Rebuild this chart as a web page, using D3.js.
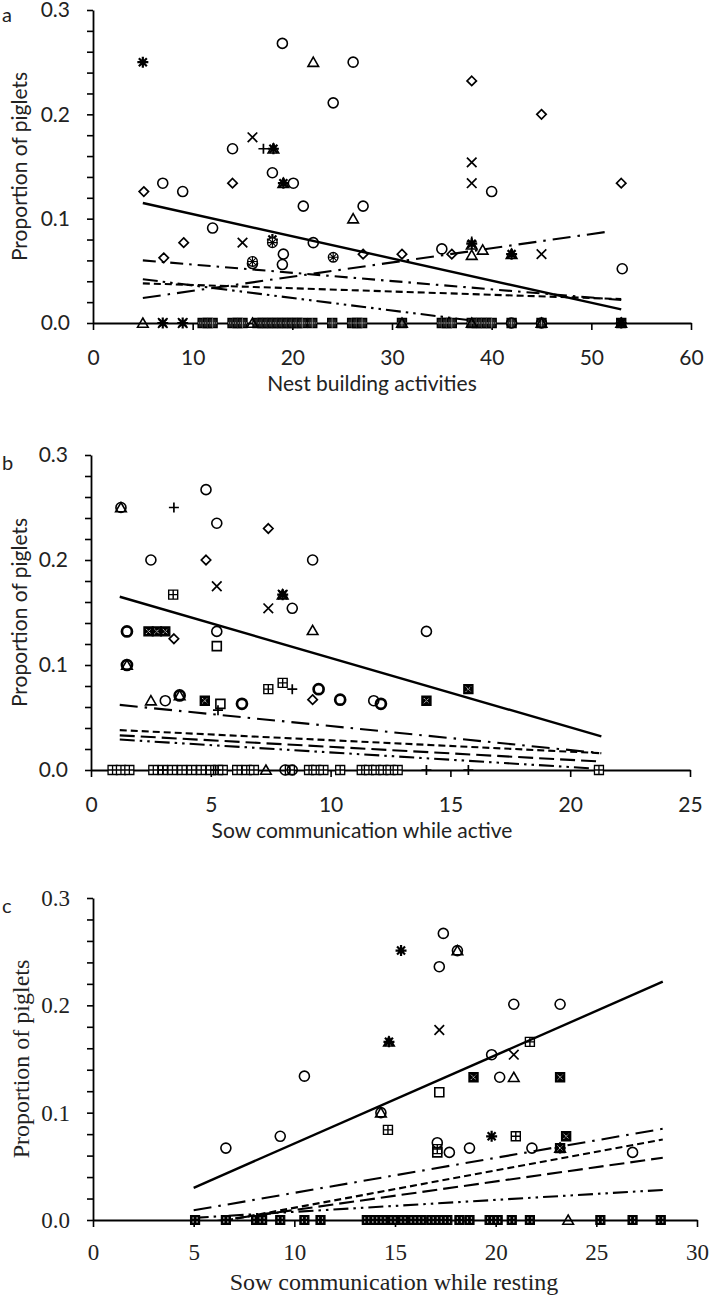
<!DOCTYPE html>
<html><head><meta charset="utf-8">
<script src="https://cdn.jsdelivr.net/npm/d3@7"></script>
<style>body{margin:0;background:#fff}svg{display:block}</style>
</head><body>
<svg id="chart" width="710" height="1298"></svg>
<script>
// ---------------- DATA ----------------
// Panel a: Nest building activities
const aXTicks = [0,10,20,30,40,50,60];
const aCircle = [[19,0.268],[26.1,0.25],[24.1,0.211],[14,0.167],[18,0.144],[20.1,0.134],[7,0.134],[9,0.126],[40,0.126],[21.1,0.112],[27.1,0.112],[12,0.091],[22.1,0.077],[19.1,0.066],[19,0.056],[16,0.057],[35,0.071],[53.1,0.052],[42,0],[45,0]];
const aDiamond = [[5.1,0.126],[14,0.134],[38,0.232],[45,0.2],[53,0.134],[9.1,0.077],[7.1,0.0625],[27.1,0.066],[31,0.066],[36,0.066]];
const aTriangle = [[22.1,0.25],[18.1,0.167],[19.1,0.134],[26.1,0.1],[38,0.075],[38,0.065],[39.1,0.07],[42,0.066],[5,0],[16,0],[31,0],[38,0],[45,0],[53,0]];
const aCross = [[16,0.178],[38,0.154],[38,0.134],[15,0.077],[45,0.066],[7,0],[9,0]];
const aPlus = [[17.1,0.167],[38,0.078]];
const aAsterisk = [[5,0.25],[18.1,0.167],[19.1,0.134],[18,0.08],[38,0.076],[42,0.066],[7,0],[9,0],[53,0]];
const aHatch = [[24.1,0.063],[18,0.077],[16,0.059]];
const aBoxZeroX = [11,11.5,12,14,14.5,15,16.5,17,17.5,18,18.5,19,19.5,20,20.5,21,22,24,26,26.5,27,31,35,35.5,36,38,38.5,39,39.5,40,42,45,53];
const aTrendSolid = [[5,0.115],[53,0.013]];
const aTrendLongDashDot = [[5,0.024],[52,0.088]];
const aTrendDashDot = [[5,0.060],[53,0.022]];
const aTrendDash = [[5,0.038],[53,0.023]];
const aTrendDashDotDot = [[5,0.042],[40,0.0]];

// Panel b: Sow communication while active
const bXTicks = [0,5,10,15,20,25];
const bCircle = [[4.8,0.267],[5.25,0.235],[2.5,0.2],[9.25,0.2],[8.4,0.154],[5.25,0.132],[14,0.132],[3.1,0.066],[11.8,0.066],[1.25,0.25],[8.1,0],[8.4,0]];
const bCircleBold = [[1.5,0.132],[6.3,0.063],[9.5,0.077],[10.4,0.067],[12.1,0.063],[1.5,0.1],[3.7,0.071]];
const bDiamond = [[7.4,0.23],[4.8,0.2],[3.46,0.125],[9.25,0.067]];
const bTriangle = [[1.25,0.25],[8,0.167],[9.25,0.133],[1.5,0.1],[2.5,0.066],[3.7,0.071],[7.3,0]];
const bCross = [[5.25,0.175],[7.4,0.154],[8,0.167]];
const bPlus = [[3.46,0.25],[8.4,0.077],[5.3,0.057],[3,0],[14,0],[15.75,0],[5.2,0]];
const bAsterisk = [[8,0.167]];
const bSquare = [[5.25,0.118],[5.4,0.063]];
const bSquarePlus = [[3.43,0.167],[7.4,0.077],[8,0.083]];
const bSquareX = [[2.4,0.132],[2.75,0.132],[3.1,0.132],[4.75,0.066],[14,0.066],[15.75,0.077]];
const bBoxZeroX = [0.9,1.25,1.6,2.6,3.0,3.4,3.8,4.2,4.6,5.0,5.3,5.5,6.1,6.5,6.8,8.3,9.1,9.4,9.7,10.4,11.3,11.6,11.9,12.2,12.5,12.8,21.2];
const bTrendSolid = [[1.2,0.165],[21.3,0.032]];
const bTrendDashDot = [[1.2,0.062],[21.3,0.016]];
const bTrendDash = [[1.2,0.038],[21.3,0.016]];
const bTrendLongDash = [[1.2,0.033],[21.3,0.008]];
const bTrendDashDotDot = [[1.2,0.029],[21.3,0.001]];

// Panel c: Sow communication while resting
const cXTicks = [0,5,10,15,20,25,30];
const cCircle = [[17.4,0.267],[17.2,0.236],[18.1,0.251],[20.9,0.201],[23.2,0.201],[19.8,0.154],[20.2,0.133],[14.3,0.1],[17.7,0.063],[18.7,0.067],[21.8,0.067],[26.8,0.063],[6.6,0.067],[9.3,0.078],[10.5,0.134],[17.1,0.072]];
const cTriangle = [[18.1,0.251],[14.7,0.166],[20.9,0.133],[14.3,0.1],[23.2,0.067],[23.6,0]];
const cCross = [[17.2,0.177],[20.9,0.154]];
const cAsterisk = [[15.3,0.251],[14.7,0.166],[19.8,0.078],[23.2,0.067]];
const cSquarePlus = [[21.7,0.166],[14.65,0.084],[21.0,0.078],[17.1,0.066]];
const cSquareX = [[18.9,0.133],[23.2,0.133],[23.5,0.078],[23.2,0.067]];
const cSquare = [[17.2,0.119],[17.1,0.063]];
const cBoxZeroX = [5.07,6.6,8.1,8.4,9.3,10.5,11.3,13.6,14.0,14.4,14.9,15.4,15.9,16.3,16.8,17.2,17.6,18.2,18.7,19.7,20.1,20.8,21.7,25.2,26.8,28.2];
const cTrendSolid = [[5,0.03],[28.3,0.222]];
const cTrendDashDot = [[5,0.009],[28.3,0.085]];
const cTrendDash = [[5,-0.006],[28.3,0.075]];
const cTrendLongDash = [[5,-0.004],[28.3,0.058]];
const cTrendDashDotDot = [[5,0.002],[28.3,0.028]];

const yTickValues = d3.range(0,16).map(i => i*0.02);

// ---------------- DRAWING ----------------
const svg = d3.select("#chart");
const SANS = "Lato, 'Open Sans', sans-serif";
const SERIF = "'Liberation Serif', 'Times New Roman', serif";

const SQ = "M-4.5,-4.5H4.5V4.5H-4.5Z";
const markers = {
  circle: (g) => g.append("circle").attr("r",5).attr("fill","none").attr("stroke","#000").attr("stroke-width",1.6),
  circleBold: (g) => g.append("circle").attr("r",5).attr("fill","none").attr("stroke","#000").attr("stroke-width",2.7),
  diamond: (g) => g.append("path").attr("d","M0,-4.7L4.7,0L0,4.7L-4.7,0Z").attr("fill","none").attr("stroke","#000").attr("stroke-width",1.7),
  triangle: (g) => g.append("path").attr("d","M0,-5L5.3,4.2L-5.3,4.2Z").attr("fill","none").attr("stroke","#000").attr("stroke-width",1.6),
  cross: (g) => g.append("path").attr("d","M-4.8,-4.8L4.8,4.8M-4.8,4.8L4.8,-4.8").attr("stroke","#000").attr("stroke-width",1.7),
  plus: (g) => g.append("path").attr("d","M-5,0H5M0,-5V5").attr("stroke","#000").attr("stroke-width",1.7),
  asterisk: (g) => g.append("path").attr("d","M-5.5,0H5.5M0,-5.5V5.5M-4,-4L4,4M-4,4L4,-4").attr("stroke","#000").attr("stroke-width",2.2),
  hatch: (g) => { g.append("circle").attr("r",4.8).attr("fill","#fff").attr("stroke","#000").attr("stroke-width",1.4);
                  g.append("path").attr("d","M-3.4,-3.4L3.4,3.4M-3.4,3.4L3.4,-3.4M-4.8,0H4.8M0,-4.8V4.8").attr("stroke","#000").attr("stroke-width",1.1); },
  square: (g) => g.append("path").attr("d",SQ).attr("fill","none").attr("stroke","#000").attr("stroke-width",1.6),
  squarePlus: (g) => g.append("path").attr("d",SQ+"M-4.5,0H4.5M0,-4.5V4.5").attr("fill","none").attr("stroke","#000").attr("stroke-width",1.4),
  squareX: (g) => { g.append("path").attr("d",SQ).attr("fill","#000").attr("stroke","#000").attr("stroke-width",1.4);
                    g.append("path").attr("d","M-2.5,-2.5L2.5,2.5M-2.5,2.5L2.5,-2.5").attr("stroke","#fff").attr("stroke-width",1).attr("stroke-dasharray","1.2,1"); },
  boxDot: (g) => { g.append("path").attr("d",SQ).attr("fill","#000").attr("stroke","#000").attr("stroke-width",1.2);
                   [[-2,-2],[2,-2],[-2,2],[2,2]].forEach(p => g.append("circle").attr("cx",p[0]).attr("cy",p[1]).attr("r",0.7).attr("fill","#fff")); },
  boxMix: (g) => { g.append("path").attr("d",SQ).attr("fill","#222").attr("stroke","#000").attr("stroke-width",1.4);
                   g.append("path").attr("d","M-4.5,0H4.5M0,-4.5V4.5").attr("stroke","#fff").attr("stroke-width",0.8).attr("stroke-dasharray","1,1"); },
  boxPlusOpen: (g) => g.append("path").attr("d",SQ+"M-4.5,0H4.5M0,-4.5V4.5").attr("fill","#fff").attr("stroke","#000").attr("stroke-width",1.3)
};

const dashes = {
  solid: null,
  dash: "7,4",
  longDash: "15,6",
  dashDot: "13,6,2.5,6",
  longDashDot: "18,7,2.5,7",
  dashDotDot: "15,5,2.5,5,2.5,5"
};

function drawPanel(cfg) {
  const g = svg.append("g");
  const x = d3.scaleLinear().domain(cfg.xDomain).range(cfg.xRange);
  const y = d3.scaleLinear().domain([0,0.3]).range(cfg.yRange);
  const font = cfg.font;

  const clipId = "clip" + cfg.label;
  svg.append("clipPath").attr("id", clipId).append("rect")
     .attr("x", cfg.xRange[0]).attr("y", cfg.yRange[1]-10)
     .attr("width", cfg.xRange[1]-cfg.xRange[0]).attr("height", cfg.yRange[0]-cfg.yRange[1]+10);

  // axes
  const yAxis = d3.axisLeft(y).tickValues(yTickValues).tickSize(6).tickSizeOuter(0).tickPadding(17)
      .tickFormat(d => (Math.round(d*100) % 10 === 0) ? d.toFixed(1) : "");
  const xAxis = d3.axisBottom(x).tickValues(cfg.xTicks).tickSize(7).tickSizeOuter(0).tickPadding(cfg.xPad)
      .tickFormat(d3.format("d"));
  const gy = g.append("g").attr("transform", `translate(${cfg.xRange[0]},0)`).call(yAxis);
  const gx = g.append("g").attr("transform", `translate(0,${cfg.yRange[0]})`).call(xAxis);
  [gx, gy].forEach(a => {
    a.select(".domain").attr("stroke","#000").attr("stroke-width",1.8);
    a.selectAll(".tick line").attr("stroke","#000").attr("stroke-width",1.6);
    a.selectAll(".tick text").attr("fill","#222").style("font-family", font).style("font-size", cfg.tickSize+"px");
  });

  // trend lines
  const lg = g.append("g").attr("clip-path", `url(#${clipId})`);
  const line = d3.line().x(d => x(d[0])).y(d => y(d[1]));
  cfg.trends.forEach(t => {
    lg.append("path").attr("d", line(t.data)).attr("fill","none").attr("stroke","#000")
      .attr("stroke-width", t.style === "solid" ? 2.4 : 2.1)
      .attr("stroke-dasharray", dashes[t.style]);
  });

  // markers
  cfg.series.forEach(s => {
    s.data.forEach(d => {
      const m = g.append("g").attr("transform", `translate(${x(d[0])},${y(d[1])})`);
      markers[s.marker](m);
    });
  });

  // titles
  g.append("text").attr("x", cfg.xTitleX).attr("y", cfg.xTitleY).attr("text-anchor","middle")
    .style("font-family", font).style("font-size", cfg.titleSize+"px").attr("fill","#222").text(cfg.xTitle);
  g.append("text").attr("transform", `translate(${cfg.yTitleX},${(cfg.yRange[0]+cfg.yRange[1])/2}) rotate(-90)`)
    .attr("text-anchor","middle").style("font-family", font).style("font-size", cfg.titleSize+"px").attr("fill","#222").text("Proportion of piglets");
  g.append("text").attr("x", 2).attr("y", cfg.labelY).style("font-family", SANS).style("font-size","20px").attr("fill","#222").text(cfg.label);
}

const zeros = arr => arr.map(v => [v, 0]);

drawPanel({
  label: "a", labelY: 22, font: SANS, tickSize: 21, titleSize: 21, xPad: 20,
  xDomain: [0,60], xRange: [93,691], yRange: [323,10], xTicks: aXTicks,
  xTitle: "Nest building activities", xTitleX: 372, xTitleY: 391, yTitleX: 27,
  trends: [
    {data: aTrendSolid, style: "solid"},
    {data: aTrendLongDashDot, style: "longDashDot"},
    {data: aTrendDashDot, style: "dashDot"},
    {data: aTrendDash, style: "dash"},
    {data: aTrendDashDotDot, style: "dashDotDot"}
  ],
  series: [
    {data: zeros(aBoxZeroX), marker: "boxMix"},
    {data: aCircle, marker: "circle"},
    {data: aDiamond, marker: "diamond"},
    {data: aTriangle, marker: "triangle"},
    {data: aCross, marker: "cross"},
    {data: aPlus, marker: "plus"},
    {data: aAsterisk, marker: "asterisk"},
    {data: aHatch, marker: "hatch"}
  ]
});

drawPanel({
  label: "b", labelY: 470, font: SANS, tickSize: 21, titleSize: 21, xPad: 20,
  xDomain: [0,25], xRange: [91,690], yRange: [770,455], xTicks: bXTicks,
  xTitle: "Sow communication while active", xTitleX: 362, xTitleY: 838, yTitleX: 27,
  trends: [
    {data: bTrendSolid, style: "solid"},
    {data: bTrendDashDot, style: "longDashDot"},
    {data: bTrendDash, style: "dash"},
    {data: bTrendLongDash, style: "longDash"},
    {data: bTrendDashDotDot, style: "dashDotDot"}
  ],
  series: [
    {data: zeros(bBoxZeroX), marker: "boxPlusOpen"},
    {data: bCircle, marker: "circle"},
    {data: bCircleBold, marker: "circleBold"},
    {data: bDiamond, marker: "diamond"},
    {data: bTriangle, marker: "triangle"},
    {data: bCross, marker: "cross"},
    {data: bPlus, marker: "plus"},
    {data: bAsterisk, marker: "asterisk"},
    {data: bSquare, marker: "square"},
    {data: bSquarePlus, marker: "squarePlus"},
    {data: bSquareX, marker: "squareX"}
  ]
});

drawPanel({
  label: "c", labelY: 913, font: SERIF, tickSize: 23, titleSize: 24, xPad: 17,
  xDomain: [0,30], xRange: [93,697], yRange: [1220,898], xTicks: cXTicks,
  xTitle: "Sow communication while resting", xTitleX: 394, xTitleY: 1290, yTitleX: 29,
  trends: [
    {data: cTrendSolid, style: "solid"},
    {data: cTrendDashDot, style: "longDashDot"},
    {data: cTrendDash, style: "dash"},
    {data: cTrendLongDash, style: "longDash"},
    {data: cTrendDashDotDot, style: "dashDotDot"}
  ],
  series: [
    {data: zeros(cBoxZeroX), marker: "boxDot"},
    {data: cCircle, marker: "circle"},
    {data: cTriangle, marker: "triangle"},
    {data: cCross, marker: "cross"},
    {data: cAsterisk, marker: "asterisk"},
    {data: cSquarePlus, marker: "squarePlus"},
    {data: cSquareX, marker: "squareX"},
    {data: cSquare, marker: "square"}
  ]
});
</script>
</body></html>
